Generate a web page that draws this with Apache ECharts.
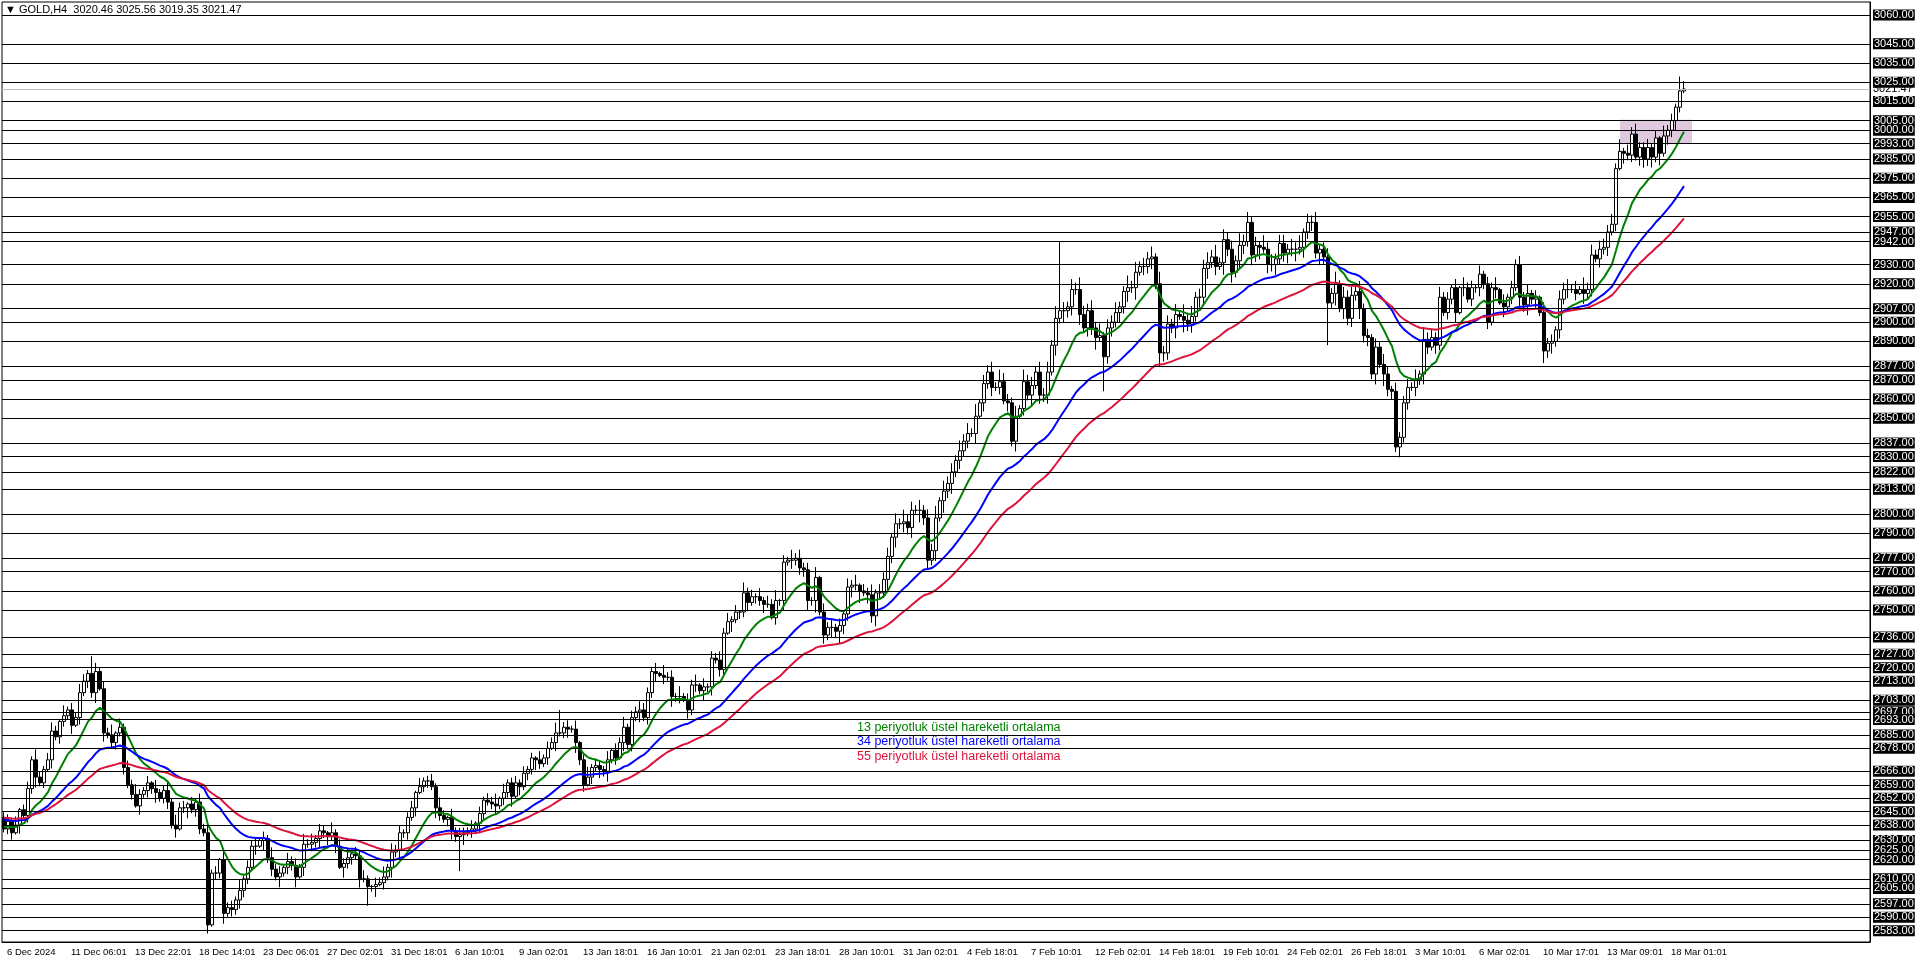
<!DOCTYPE html>
<html><head><meta charset="utf-8">
<script src="https://cdn.jsdelivr.net/npm/echarts@6/dist/echarts.min.js"></script>
<style>html,body{margin:0;padding:0;background:#fff}#c{width:1916px;height:963px}</style>
</head><body><div id="c"></div>
<script>
const title = "▼ GOLD,H4  3020.46 3025.56 3019.35 3021.47";
const xLabels = ["6 Dec 2024","11 Dec 06:01","13 Dec 22:01","18 Dec 14:01","23 Dec 06:01","27 Dec 02:01","31 Dec 18:01","6 Jan 10:01","9 Jan 02:01","13 Jan 18:01","16 Jan 10:01","21 Jan 02:01","23 Jan 18:01","28 Jan 10:01","31 Jan 02:01","4 Feb 18:01","7 Feb 10:01","12 Feb 02:01","14 Feb 18:01","19 Feb 10:01","24 Feb 02:01","26 Feb 18:01","3 Mar 10:01","6 Mar 02:01","10 Mar 17:01","13 Mar 09:01","18 Mar 01:01"];
const firstOpen = 2642;
const closes = [
2636,2640,2634,2638,2646,2643,2657,2672,2663,2660,
2667,2672,2687,2684,2692,2695,2698,2690,2694,2707,
2713,2717,2707,2718,2709,2686,2685,2681,2686,2689,
2668,2659,2654,2648,2654,2656,2660,2657,2655,2652,
2656,2650,2638,2636,2647,2647,2649,2646,2650,2636,
2634,2586,2613,2613,2620,2592,2595,2594,2599,2604,
2610,2616,2627,2627,2630,2631,2621,2615,2611,2613,
2616,2619,2617,2611,2616,2628,2628,2629,2631,2635,
2634,2632,2634,2627,2616,2618,2621,2623,2622,2610,
2610,2606,2606,2607,2608,2611,2616,2624,2625,2634,
2634,2642,2647,2655,2658,2661,2661,2658,2647,2643,
2641,2642,2635,2632,2633,2634,2635,2636,2639,2644,
2651,2650,2649,2648,2652,2655,2660,2653,2660,2658,
2665,2667,2673,2672,2670,2673,2678,2681,2686,2686,
2689,2688,2688,2681,2672,2659,2663,2668,2669,2667,
2666,2672,2677,2673,2681,2689,2680,2694,2697,2698,
2694,2707,2718,2717,2716,2715,2715,2705,2705,2705,
2703,2698,2711,2711,2708,2710,2710,2725,2724,2719,
2738,2744,2745,2749,2749,2759,2754,2757,2757,2755,
2753,2753,2746,2755,2755,2775,2776,2776,2777,2772,
2771,2755,2755,2767,2749,2737,2741,2741,2739,2742,
2748,2762,2763,2763,2760,2759,2758,2747,2759,2759,
2766,2778,2788,2795,2795,2796,2793,2802,2802,2802,
2798,2776,2781,2798,2807,2812,2816,2822,2828,2833,
2838,2842,2842,2851,2858,2868,2874,2866,2866,2869,
2859,2858,2838,2851,2855,2869,2862,2867,2874,2862,
2862,2874,2888,2902,2906,2906,2908,2917,2917,2904,
2897,2906,2897,2892,2893,2882,2897,2900,2905,2908,
2916,2918,2918,2926,2929,2929,2933,2934,2920,2884,
2884,2899,2897,2904,2903,2901,2899,2903,2913,2913,
2928,2931,2934,2929,2931,2943,2938,2926,2932,2940,
2942,2952,2935,2940,2939,2938,2930,2930,2933,2941,
2936,2938,2938,2938,2939,2947,2952,2952,2936,2938,
2934,2910,2915,2920,2907,2913,2902,2914,2916,2907,
2893,2892,2873,2887,2878,2873,2865,2864,2835,2840,
2858,2866,2866,2870,2873,2891,2887,2892,2888,2913,
2905,2912,2918,2905,2918,2918,2912,2918,2918,2925,
2920,2900,2918,2917,2910,2908,2913,2918,2930,2913,
2909,2915,2912,2913,2905,2885,2889,2890,2896,2912,
2917,2917,2917,2915,2917,2915,2917,2935,2933,2938,
2939,2947,2951,2980,2989,2988,2987,2998,2986,2991,
2985,2991,2986,2996,2988,2997,3000,3005,3012,3020.46,
3021.47];
const wickHi = "3425134263 2453162435 4235243615 2436324152 3526341425 3624153426 2435142634 1534263524 3162435243 5214362534 2341523426 3152432514 2436152342 4231524362 3425136243 2514362435 4325163426 2436152435 3524163425 2536142635 3426153524 2536143625 4526374536 3547264536 4637254637 5436274536 4637253647 5463725463 3746354627 4536274635 5647364537 4635274635 5364725463 4537264536 3425364253 4536274536 3425163425 2436152435 3524163425 4635274635 5463725463 3524163425 2436152435";
const wickLo = "2341524362 3152432514 2436152342 4231524362 3425136243 2514362435 4325163426 2436152435 3524163425 2536142635 3425134263 2453162435 4235243615 2436324152 3526341425 3624153426 2435142634 1534263524 3162435243 5214362534 4637253647 5463725463 3746354627 4536274635 3426153524 2536143625 4526374536 3547264536 4637254637 5436274536 4635274635 5364725463 5647364537 4537264536 4536274536 3425364253 2436152435 3425163425 4635274635 3524163425 3524163425 5463725463 2436152435";
const extremeIdx  = [22,   51,   55,   91,   114,  139,  264,  275,  289,  331,  348,  378,  419,    420];
const extremeHigh = [2726, null, null, null, null, 2698, 2942, null, null, null, null, 2931, 3028,   3025.56];
const extremeLow  = [null, 2583, 2589, 2596, 2614, null, null, 2864, 2877, 2888, 2833, null, null,   3019.35];
const levels = [3060,3045,3035,3025,3015,3005,3000,2993,2985,2975,2965,2955,2947,2942,2930,2920,2907,2900,2890,2877,2870,2860,2850,2837,2830,2822,2813,2800,2790,2777,2770,2760,2750,2736,2727,2720,2713,2703,2697,2693,2685,2678,2666,2659,2652,2645,2638,2630,2625,2620,2610,2605,2597,2590,2583];
const scaleTicks = [2578.63,2595.63,2613.63,2630.13,2647.63,2664.63,2681.63,2699.13,2716.13,2733.13,2750.63,2767.63,2784.63,2802.13,2819.13,2836.13,2853.63,2871.13,2888.13,2905.13,2922.63,2939.83,2957.13,2974.13,2991.13,3009.13,3026.13,3042.63];
const lastPrice = 3021.47;
const zoneBars = [404, 422];
const zonePrices = [2993, 3005.5];
const emaPeriods = [13, 34, 55];
const emaSeeds = [2637, 2641, 2642];
const emaNames = ["13 periyotluk üstel hareketli ortalama","34 periyotluk üstel hareketli ortalama","55 periyotluk üstel hareketli ortalama"];
const emaColors = ["#008000","#0000ff","#dc143c"];

const TOTAL = 467;
const hiArr = wickHi.replace(/ /g,''), loArr = wickLo.replace(/ /g,'');
const cats = [];
for (let i=0;i<TOTAL;i++) cats.push(i%16===0 && i/16<xLabels.length ? xLabels[i/16] : '');
const candles = closes.map((c,i)=>{
  const o = i===0 ? firstOpen : closes[i-1];
  let h = Math.max(o,c) + (+hiArr[i]||2)*0.9;
  let l = Math.min(o,c) - (+loArr[i]||2)*0.9;
  const k = extremeIdx.indexOf(i);
  if (k>=0){ if (extremeHigh[k]!=null) h = (i>=419? extremeHigh[k] : Math.max(h,extremeHigh[k])); if (extremeLow[k]!=null) l = (i>=419? extremeLow[k] : Math.min(l,extremeLow[k])); }
  return [o,c,l,h];
});
function ema(n, seed){ const k=2/(n+1); let e=seed; return closes.map(c=>{ e=c*k+e*(1-k); return +e.toFixed(2);}); }
const FONT = 'Liberation Sans';
const ml = [];
scaleTicks.forEach(v=>ml.push({yAxis:v, lineStyle:{opacity:0}, label:{show:true, position:'end', distance:3, formatter:v.toFixed(2), color:'#000', fontSize:11, fontFamily:FONT}}));
ml.push({yAxis:lastPrice, lineStyle:{color:'#c0c0c0',width:1,type:'solid'}, label:{show:true, position:'end', distance:3, formatter:lastPrice.toFixed(2), color:'#000', backgroundColor:'#fff', fontSize:11, fontFamily:FONT}});
levels.forEach(v=>ml.push({yAxis:v, lineStyle:{color:'#000',width:1,type:'solid'}, label:{show:true, position:'end', distance:3, formatter:v.toFixed(2), color:'#fff', backgroundColor:'#000', padding:[0,1,0,1], fontSize:11, fontFamily:FONT}}));

const series = [{
  type:'candlestick', data:candles, barWidth:3, z:3,
  itemStyle:{color:'#fff', color0:'#000', borderColor:'#000', borderColor0:'#000', borderWidth:1},
  markLine:{silent:true, symbol:'none', animation:false, data:ml},
  markArea:{silent:true, itemStyle:{color:'rgba(216,191,216,0.85)'}, data:[[{xAxis:zoneBars[0], yAxis:zonePrices[0]},{xAxis:zoneBars[1], yAxis:zonePrices[1]}]]}
}];
emaPeriods.forEach((n,i)=>series.push({type:'line', data:ema(n,emaSeeds[i]), showSymbol:false, symbol:'none', z:4, lineStyle:{color:emaColors[i], width:2}, animation:false}));

const chart = echarts.init(document.getElementById('c'));
chart.setOption({
  animation:false,
  grid:{left:2, right:46, top:2, bottom:21, show:true, borderColor:'#000', borderWidth:1},
  xAxis:{type:'category', data:cats, boundaryGap:true,
    axisLine:{lineStyle:{color:'#000'}},
    axisTick:{interval:(i)=>i%16===0 && i<=416, length:4, lineStyle:{color:'#000'}},
    axisLabel:{interval:(i)=>i%16===0 && i<=416, hideOverlap:false, showMaxLabel:true, align:'left', margin:5, color:'#000', fontSize:9.5, fontFamily:FONT, padding:[0,0,0,3]},
    splitLine:{show:false}},
  yAxis:{type:'value', position:'right', min:2577.1, max:3066.8, scale:true,
    axisLine:{show:true, lineStyle:{color:'#000'}}, axisTick:{show:false}, axisLabel:{show:false}, splitLine:{show:false}},
  graphic:[
    {type:'text', left:5, top:4, style:{text:title, fill:'#000', font:'11px '+FONT}},
    {type:'text', left:857, top:721, style:{text:emaNames[0], fill:emaColors[0], font:'12.5px '+FONT}},
    {type:'text', left:857, top:735, style:{text:emaNames[1], fill:emaColors[1], font:'12.5px '+FONT}},
    {type:'text', left:857, top:750, style:{text:emaNames[2], fill:emaColors[2], font:'12.5px '+FONT}}
  ],
  series
});
</script></body></html>
